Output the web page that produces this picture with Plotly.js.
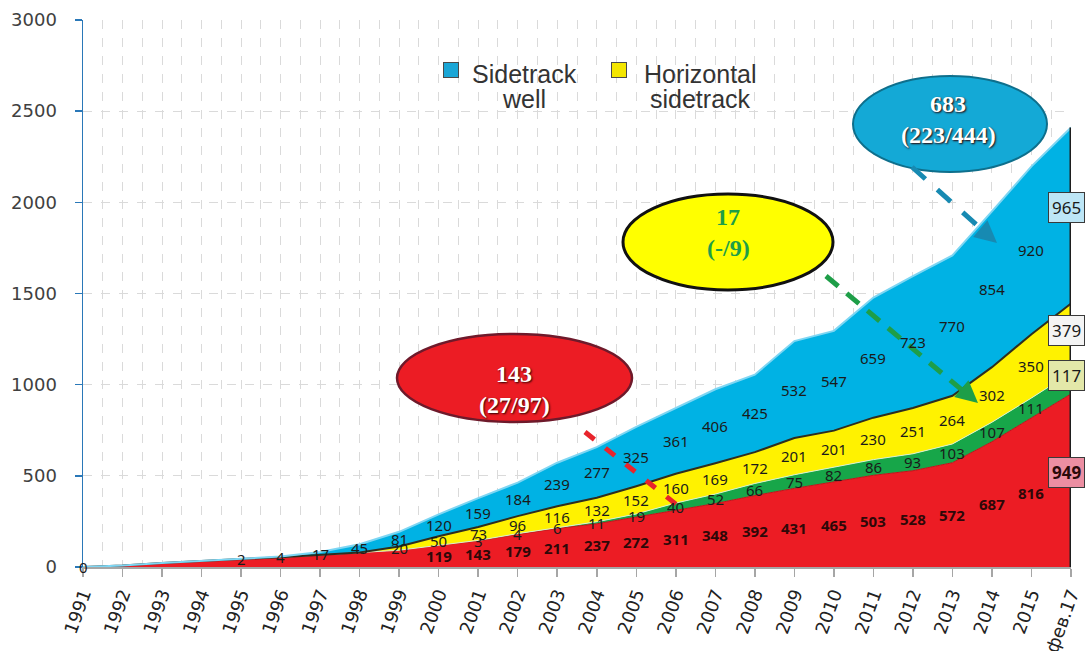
<!DOCTYPE html>
<html>
<head>
<meta charset="utf-8">
<script src="https://cdn.plot.ly/plotly-3.0.1.min.js"></script>
<style>
  html, body { margin: 0; padding: 0; background: #ffffff; }
  #chart { width: 1087px; height: 651px; }
</style>
</head>
<body>
<div id="chart"></div>
<script>
// ---- data ----
const categories = ['1991','1992','1993','1994','1995','1996','1997','1998','1999','2000',
  '2001','2002','2003','2004','2005','2006','2007','2008','2009','2010',
  '2011','2012','2013','2014','2015','фев.17'];
const redValues    = [0, 8, 22, 35, 44, 53, 65, 80, 92, 119, 143, 179, 211, 237, 272, 311, 348, 392, 431, 465, 503, 528, 572, 687, 816, 949];
const greenValues  = [0, 0, 0, 0, 0, 0, 0, 0, 0, 0, 3, 4, 6, 11, 19, 40, 52, 66, 75, 82, 86, 93, 103, 107, 111, 117];
const yellowValues = [0, 0, 0, 0, 0, 0, 0, 0, 20, 50, 73, 96, 116, 132, 152, 160, 169, 172, 201, 201, 230, 251, 264, 302, 350, 379];
const blueValues   = [0, 0, 0, 0, 2, 4, 17, 45, 81, 120, 159, 184, 239, 277, 325, 361, 406, 425, 532, 547, 659, 723, 770, 854, 920, 965];
const legendNames = ['Sidetrack', 'well', 'Horizontal', 'sidetrack'];
const bubbleRed = ['143', '(27/97)'];
const bubbleYellow = ['17', '(-/9)'];
const bubbleBlue = ['683', '(223/444)'];
// first category index from which each series is labelled
const firstLabel = {red: 9, green: 10, yellow: 8, blue: 4};

// ---- helpers ----
const xs = categories.map((c, i) => i);
const last = categories.length - 1;
const L = 83, R = 1071, T = 20, B = 567;
const P = px => (px - L) / (R - L);
const Q = py => (B - py) / (B - T);

const series = [
  {key: 'red', vals: redValues, fill: '#ec1c24', line: '#c41018', lw: 1, name: 'red'},
  {key: 'green', vals: greenValues, fill: '#17a649', line: '#d9f0d0', lw: 1, name: 'green'},
  {key: 'yellow', vals: yellowValues, fill: '#fff200', line: '#2e2e20', lw: 2, name: 'Horizontal sidetrack'},
  {key: 'blue', vals: blueValues, fill: '#00b2e4', line: '#7ed6f3', lw: 2, name: 'Sidetrack well'}
];

const traces = series.map(s => ({
  type: 'scatter', mode: 'lines', x: xs, y: s.vals, name: s.name,
  stackgroup: 'one', fillcolor: s.fill,
  line: {color: s.line, width: s.lw, shape: 'linear'},
  hoverinfo: 'skip', showlegend: false
}));
const totals = xs.map(i => redValues[i] + greenValues[i] + yellowValues[i] + blueValues[i]);
traces.push({
  type: 'scatter', mode: 'lines', x: [last, last], y: [0, totals[last]],
  line: {color: '#1e1e1e', width: 3}, hoverinfo: 'skip', showlegend: false
});

// ---- value labels at segment midpoints ----
const annotations = [];
const boxStyle = {
  red: {bg: '#ec8ea2', fg: '#2a0a0a'},
  green: {bg: '#e3e8a9', fg: '#1a1a1a'},
  yellow: {bg: '#f4f4f4', fg: '#1a1a1a'},
  blue: {bg: '#bde6f6', fg: '#1a1a1a'}
};
let base = xs.map(() => 0);
series.forEach(s => {
  xs.forEach(i => {
    const v = s.vals[i];
    const mid = base[i] + v / 2;
    if (i >= firstLabel[s.key]) {
      if (i === last) {
        annotations.push({
          x: i, y: mid, xref: 'x', yref: 'y', text: String(v), showarrow: false,
          xanchor: 'center', yanchor: 'middle', xshift: -5, yshift: 8,
          font: {family: 'Noto Sans, sans-serif', size: 17, color: boxStyle[s.key].fg,
                 weight: s.key === 'red' ? 'bold' : 'normal'},
          bgcolor: boxStyle[s.key].bg, bordercolor: '#3a3a3a', borderwidth: 1, borderpad: 3
        });
      } else {
        const isRed = s.key === 'red';
        annotations.push({
          x: i, y: mid, xref: 'x', yref: 'y', text: String(v), showarrow: false,
          xanchor: 'center', yanchor: 'middle',
          font: {family: 'Noto Sans, sans-serif', size: 15,
                 color: isRed ? '#2e0808' : '#1a1a1a', weight: isRed ? 'bold' : 'normal'}
        });
      }
    }
    base[i] += v;
  });
});
annotations.push({x: 0, y: 0, xref: 'x', yref: 'y', text: String(redValues[0]), showarrow: false,
  xanchor: 'center', yanchor: 'middle',
  font: {family: 'Noto Sans, sans-serif', size: 15, color: '#1a1a1a'}});

// ---- legend (drawn) ----
const legFont = {family: 'Liberation Sans, Arial, sans-serif', size: 25, color: '#333333'};
function legendItem(iconX, color, textX, line1, line2) {
  annotations.push({x: P(iconX), y: Q(70), xref: 'paper', yref: 'paper', text: '&nbsp;',
    xanchor: 'center', yanchor: 'middle',
    showarrow: false, width: 12, height: 12, bgcolor: color, bordercolor: '#4a4a4a', borderwidth: 1,
    font: {size: 8}});
  annotations.push({x: P(textX), y: Q(74), xref: 'paper', yref: 'paper', text: line1, showarrow: false,
    xanchor: 'center', yanchor: 'middle', font: legFont});
  annotations.push({x: P(textX), y: Q(99), xref: 'paper', yref: 'paper', text: line2, showarrow: false,
    xanchor: 'center', yanchor: 'middle', font: legFont});
}
legendItem(451, '#1aa6d6', 524, legendNames[0], legendNames[1]);
legendItem(619, '#f4e600', 700, legendNames[2], legendNames[3]);

// ---- bubbles ----
function bubbleText(cx, y1, y2, lines, color, shadow) {
  const f = {family: 'Liberation Serif, DejaVu Serif, serif', size: 24, color: color, weight: 'bold'};
  if (shadow) f.shadow = '1px 1px 2px #2a0000';
  annotations.push({x: P(cx), y: Q(y1), xref: 'paper', yref: 'paper', text: lines[0], showarrow: false,
    xanchor: 'center', yanchor: 'middle', font: f});
  annotations.push({x: P(cx), y: Q(y2), xref: 'paper', yref: 'paper', text: lines[1], showarrow: false,
    xanchor: 'center', yanchor: 'middle', font: f});
}
bubbleText(514, 374, 405, bubbleRed, '#ffffff', true);
bubbleText(728, 217, 248, bubbleYellow, '#1e9e48', false);
bubbleText(948, 104, 135, bubbleBlue, '#ffffff', true);

// arrowheads
annotations.push({x: P(978), y: Q(403), xref: 'paper', yref: 'paper', ax: -14, ay: -12, text: '',
  showarrow: true, arrowhead: 2, arrowsize: 1.1, arrowwidth: 4, arrowcolor: '#1e9e48'});
annotations.push({x: P(997), y: Q(243), xref: 'paper', yref: 'paper', ax: -14, ay: -12, text: '',
  showarrow: true, arrowhead: 2, arrowsize: 1.1, arrowwidth: 4, arrowcolor: '#178ab2'});

const shapes = [
  {type: 'circle', xref: 'paper', yref: 'paper', x0: P(397), x1: P(632), y0: Q(422), y1: Q(334),
   fillcolor: '#ec1c24', line: {color: '#6e1a2b', width: 2.5}},
  {type: 'circle', xref: 'paper', yref: 'paper', x0: P(623), x1: P(833), y0: Q(290), y1: Q(194),
   fillcolor: '#ffff00', line: {color: '#111111', width: 3}},
  {type: 'circle', xref: 'paper', yref: 'paper', x0: P(853), x1: P(1047), y0: Q(172), y1: Q(76),
   fillcolor: '#14a9d6', line: {color: '#0e6f8c', width: 2}},
  {type: 'line', xref: 'paper', yref: 'paper', x0: P(585), y0: Q(432), x1: P(677), y1: Q(505),
   line: {color: '#e8242c', width: 5, dash: '12px,14px'}},
  {type: 'line', xref: 'paper', yref: 'paper', x0: P(826), y0: Q(276), x1: P(968), y1: Q(395),
   line: {color: '#1e9e48', width: 5, dash: '16px,11px'}},
  {type: 'line', xref: 'paper', yref: 'paper', x0: P(912), y0: Q(167), x1: P(988), y1: Q(235),
   line: {color: '#178ab2', width: 5, dash: '18px,16px'}}
];

const layout = {
  width: 1087, height: 651,
  margin: {l: L, r: 1087 - R, t: T, b: 651 - B},
  paper_bgcolor: '#ffffff', plot_bgcolor: '#ffffff',
  showlegend: false,
  xaxis: {
    range: [0, last], tickmode: 'array', tickvals: xs, ticktext: categories,
    tickangle: -70, tickfont: {family: 'DejaVu Sans, sans-serif', size: 18, color: '#222222'},
    showline: true, linecolor: '#a6a6a6', linewidth: 1.5,
    ticks: 'outside', ticklen: 8, tickcolor: '#a6a6a6', tickwidth: 1.5,
    showgrid: true, gridcolor: '#dadada', griddash: 'dash', gridwidth: 1,
    minor: {tickmode: 'linear', tick0: 0, dtick: 0.5, showgrid: true, gridcolor: '#dadada', griddash: 'dash', ticklen: 0},
    zeroline: false, fixedrange: true
  },
  yaxis: {
    range: [0, 3000], dtick: 500, tick0: 0,
    tickfont: {family: 'DejaVu Sans, sans-serif', size: 18, color: '#404040'},
    showline: true, linecolor: '#2a78b8', linewidth: 1.5,
    ticks: 'outside', ticklen: 7, tickcolor: '#2a78b8', tickwidth: 1.5, ticklabelstandoff: 14,
    showgrid: true, gridcolor: '#dadada', griddash: 'dash', gridwidth: 1,
    zeroline: false, fixedrange: true
  },
  shapes: shapes,
  annotations: annotations
};

Plotly.newPlot('chart', traces, layout, {staticPlot: true, displayModeBar: false});
</script>
</body>
</html>
